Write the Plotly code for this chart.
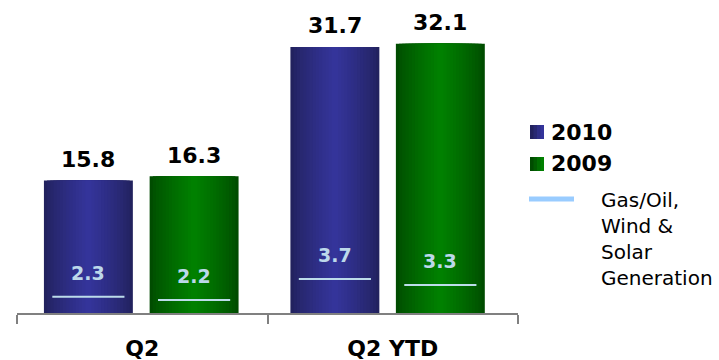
import plotly.graph_objects as go

# ---------------- data ----------------
categories = ["Q2", "Q2 YTD"]
series_names = ["2010", "2009"]
values_2010 = [15.8, 31.7]
values_2009 = [16.3, 32.1]
gas_2010 = [2.3, 3.7]          # Gas/Oil, Wind & Solar generation labels
gas_2009 = [2.2, 3.3]
gas_line_2010 = [1.95, 4.05]   # level at which the marker line is drawn
gas_line_2009 = [1.55, 3.35]

# ---------------- styling ----------------
FONT = "DejaVu Sans"
BAR_W = 0.355
OFFSETS = {"2010": [-0.215, -0.231], "2009": [0.207, 0.19]}
EDGE = {"2010": (0x22, 0x22, 0x5e), "2009": (0x00, 0x4c, 0x00)}
CENTER = {"2010": (0x34, 0x34, 0x9a), "2009": (0x00, 0x80, 0x00)}
GAS_LINE_COLOR = "#bcdcea"
GAS_TEXT_COLOR = "#bcd8ea"
LEGEND_LINE_COLOR = "#99ccff"
N_LAYERS = 14

series_vals = {"2010": values_2010, "2009": values_2009}
series_gas = {"2010": gas_2010, "2009": gas_2009}
series_gas_line = {"2010": gas_line_2010, "2009": gas_line_2009}


def mix(a, b, t):
    return "rgb(%d,%d,%d)" % tuple(round(a[i] + (b[i] - a[i]) * t) for i in range(3))


fig = go.Figure()

# bars with a horizontal (cylinder-like) gradient built from overlaid narrower bars
for name in series_names:
    for k in range(N_LAYERS):
        frac = 1 - k / N_LAYERS
        w = BAR_W * frac
        t = (k / (N_LAYERS - 1)) ** 0.8
        fig.add_trace(go.Bar(
            x=categories,
            y=series_vals[name],
            width=[w] * len(categories),
            offset=[o - w / 2 for o in OFFSETS[name]],
            marker=dict(color=mix(EDGE[name], CENTER[name], t), line=dict(width=0)),
            showlegend=False,
            hoverinfo="skip",
            name=name,
        ))

annotations = []
shapes = []

for name in series_names:
    for i, cat in enumerate(categories):
        xc = i + OFFSETS[name][i]
        # total value label
        annotations.append(dict(
            x=xc, y=series_vals[name][i], xref="x", yref="y",
            text="<b>%.1f</b>" % series_vals[name][i],
            showarrow=False, yanchor="middle", yshift=21,
            font=dict(family=FONT, size=22, color="#000000"),
        ))
        # gas/oil marker line
        gl = series_gas_line[name][i]
        shapes.append(dict(
            type="line", xref="x", yref="y",
            x0=xc - 0.144, x1=xc + 0.144, y0=gl, y1=gl,
            line=dict(color=GAS_LINE_COLOR, width=2),
        ))
        annotations.append(dict(
            x=xc, y=gl, xref="x", yref="y",
            text="<b>%.1f</b>" % series_gas[name][i],
            showarrow=False, yanchor="middle", yshift=24,
            font=dict(family=FONT, size=19, color=GAS_TEXT_COLOR),
        ))

# ---------------- legend (drawn manually) ----------------
L, R_, B = 17, 518, 313


def px_x(px):
    return (px - L) / (R_ - L)


def px_y(py):
    return (B - py) / B


legend_rows = [("2010", 125, 139, 132), ("2009", 157, 171, 163)]
for name, top, bot, cy in legend_rows:
    for k in range(4):
        x0 = 530 + k * 3.5
        shapes.append(dict(
            type="rect", xref="paper", yref="paper",
            x0=px_x(x0), x1=px_x(544), y0=px_y(bot), y1=px_y(top),
            fillcolor=mix(EDGE[name], CENTER[name], k / 3), line=dict(width=0),
        ))
    annotations.append(dict(
        x=px_x(549), y=px_y(cy), xref="paper", yref="paper",
        text="<b>%s</b>" % name, showarrow=False,
        xanchor="left", yanchor="middle",
        font=dict(family=FONT, size=22, color="#000000"),
    ))

shapes.append(dict(
    type="line", xref="paper", yref="paper",
    x0=px_x(529), x1=px_x(574), y0=px_y(199), y1=px_y(199),
    line=dict(color=LEGEND_LINE_COLOR, width=5),
))
annotations.append(dict(
    x=px_x(599), y=px_y(186), xref="paper", yref="paper",
    text="Gas/Oil,<br>Wind &amp;<br>Solar<br>Generation", showarrow=False,
    xanchor="left", yanchor="top", align="left",
    font=dict(family=FONT, size=20, color="#000000"),
))

fig.update_layout(
    width=719, height=360,
    margin=dict(l=17, r=201, t=0, b=47),
    paper_bgcolor="white", plot_bgcolor="white",
    barmode="overlay",
    showlegend=False,
    xaxis=dict(
        type="category", range=[-0.5, 1.5],
        showline=True, linecolor="#808080", linewidth=1.5,
        ticks="outside", ticklen=9, tickcolor="#808080", tickwidth=1.5,
        tickson="boundaries", showgrid=False,
        tickfont=dict(family=FONT, size=22, color="#000000", weight="bold"),
        ticklabelstandoff=15,
    ),
    yaxis=dict(range=[0, 37.3], visible=False, showgrid=False, zeroline=False),
    annotations=annotations,
    shapes=shapes,
)

fig.write_html("out.html")
